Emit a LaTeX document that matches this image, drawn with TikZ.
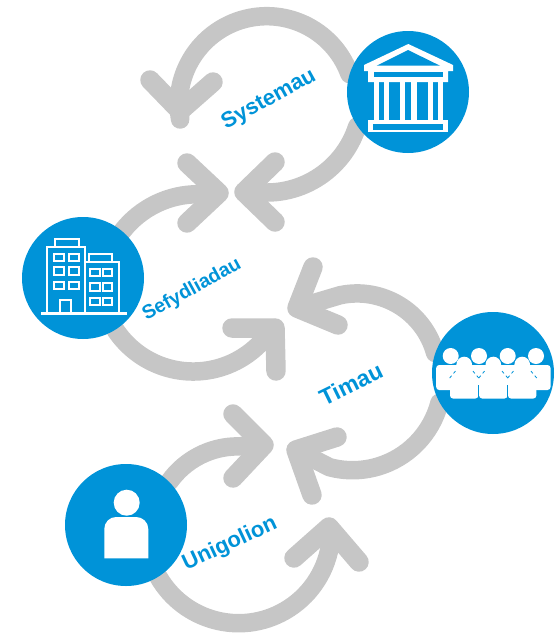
\documentclass[tikz,border=0pt]{standalone}
\usepackage{fontspec}
\setmainfont{Liberation Sans}
\usetikzlibrary{backgrounds}
\definecolor{ringgray}{HTML}{C6C6C6}
\definecolor{discblue}{HTML}{0093D8}

\begin{document}
\begin{tikzpicture}[
    x=1pt, y=-1pt,
    disc/.style={circle, fill=discblue, inner sep=0pt, minimum size=122pt},
    ring/.style={draw=ringgray, line width=18.5pt, line cap=round, line join=round},
    head/.style={ring, line width=19.5pt},
    tag/.style={text=discblue, font=\fontsize{22}{26}\selectfont\bfseries, inner sep=0pt},
    icon/.style={fill=white, draw=none},
    outline/.style={draw=white, line width=1.7pt},
    hole/.style={fill=discblue, draw=none},
    seam/.style={draw=discblue, line width=0.8pt}
  ]
    \useasboundingbox (0,0) rectangle (559,635);

    % Discs
    \node[disc] (sys) at (408, 92) {};
    \node[disc] (sef) at (83, 278) {};
    \node[disc] (tim) at (493, 373) {};
    \node[disc] (uni) at (126, 525) {};

    % Arrow heads: tip and the two arm ends
    \coordinate (tipA) at (180, 111); \coordinate (armA1) at (150, 80);  \coordinate (armA2) at (213, 82);
    \coordinate (tipB) at (244, 192); \coordinate (armB1) at (275, 162); \coordinate (armB2) at (275, 222);
    \coordinate (tipC) at (219, 193); \coordinate (armC1) at (187, 163); \coordinate (armC2) at (187, 223);
    \coordinate (tipD) at (275, 328); \coordinate (armD1) at (232, 328); \coordinate (armD2) at (276, 371);
    \coordinate (tipE) at (297, 308); \coordinate (armE1) at (313, 267); \coordinate (armE2) at (338, 325);
    \coordinate (tipF) at (296, 450); \coordinate (armF1) at (337, 437); \coordinate (armF2) at (312, 495);
    \coordinate (tipG) at (264, 445); \coordinate (armG1) at (233, 414); \coordinate (armG2) at (233, 478);
    \coordinate (tipH) at (329, 527); \coordinate (armH1) at (294, 558); \coordinate (armH2) at (359, 562);

    % Connections
    \begin{scope}[on background layer]
      \draw[ring] (sys.163) arc[start angle=20, end angle=190, radius=88pt] -- (tipA);
      \draw[ring] (sys.214.5) arc[start angle=-17.6, end angle=-100, radius=95pt] -- (tipB);
      \draw[ring] (sef.50.7) arc[start angle=142, end angle=90, radius=96pt] -- (tipC);
      \draw[ring] (sef.-58.2) arc[start angle=213.7, end angle=315, radius=93.5pt] -- (tipD);
      \draw[ring] (tim.161.5) arc[start angle=15.3, end angle=102, radius=81pt] -- (tipE);
      \draw[ring] (tim.209.5) arc[start angle=-14.3, end angle=-105, radius=89.7pt] -- (tipF);
      \draw[ring] (uni.45.7) arc[start angle=144.6, end angle=90, radius=84pt] -- (tipG);
      \draw[ring] (uni.-58.4) arc[start angle=210, end angle=350, radius=92.6pt] -- (tipH);
      \foreach \h in {A,B,C,D,E,F,G,H}
        \draw[head] (arm\h1) -- (tip\h) -- (arm\h2);
    \end{scope}

    % Labels
    \node[tag, rotate=29] (lsys) at (269, 100) {Systemau};
    \node[tag, rotate=29, font=\fontsize{19.5}{23}\selectfont\bfseries] (lsef) at (192, 290) {Sefydliadau};
    \node[tag, rotate=26, font=\fontsize{23}{27}\selectfont\bfseries] (ltim) at (351, 384) {Timau};
    \node[tag, rotate=25] (luni) at (230, 544) {Unigolion};

    % Icon: temple
    \fill[icon] (408.3,44) -- (453,65) -- (453,71) -- (448,71) -- (448,82) -- (368,82) -- (368,71) -- (364,71) -- (364,65) -- cycle;
    \fill[hole] (376.7,65.7) -- (408,50) -- (440,65.7) -- cycle;
    \fill[hole] (373.5,72) rectangle (443,77);
    \foreach \a/\b in {374/379, 384.3/389.3, 400/405, 411/416.7, 427.7/433.3, 438.3/443.3}
      \fill[icon] (\a,82) rectangle (\b,120);
    \fill[icon] (368,120) rectangle (448,132);
    \fill[hole] (373,124.3) rectangle (443,130);

    % Icon: buildings
    \draw[outline] (46.7,312) -- (46.7,247.3) -- (85,247.3) -- (85,312);
    \draw[outline] (85,262.3) -- (119.3,262.3) -- (119.3,312);
    \draw[outline] (55.3,246) -- (55.3,239.3) -- (79.3,239.3) -- (79.3,246);
    \draw[outline] (89.3,261) -- (89.3,254.3) -- (112,254.3) -- (112,261);
    \draw[outline, line width=3pt] (41,313) -- (126.7,313);
    \draw[outline] (60,312) -- (60,300) -- (71,300) -- (71,312);
    \foreach \ya/\yb in {254/260.7, 266.7/275, 281.7/289.3}
      \foreach \xa/\xb in {54.3/64.3, 68.7/78.7}
        \draw[outline] (\xa,\ya) rectangle (\xb,\yb);
    \foreach \ya/\yb in {269.3/275.7, 283.3/290.7, 298.3/305}
      \foreach \xa/\xb in {90.3/100, 102.7/112}
        \draw[outline] (\xa,\ya) rectangle (\xb,\yb);

    % Icon: group of people
    \foreach \x in {450.7, 479, 507.7, 536} {
      \fill[icon] (\x,356) circle[radius=8pt];
      \fill[icon, rounded corners=3pt] (\x-14.5,365) rectangle (\x+14.5,390);
    }
    \foreach \x in {464.2, 493.3, 522.2} {
      \fill[icon] (\x,364.5) circle[radius=7.8pt];
      \fill[icon, rounded corners=3pt] (\x-14.2,373.5) rectangle (\x+14.2,398.5);
      \draw[seam, dashed] (\x-14.5,378) -- (\x-7,369);
      \draw[seam, dashed] (\x+14.5,378) -- (\x+7,369);
    }
    \draw[seam] (478.7,385) -- (478.7,398.5);
    \draw[seam] (507.7,385) -- (507.7,398.5);

    % Icon: person
    \fill[icon] (126.7,502.7) circle[radius=13pt];
    \fill[icon] (104.3,558.3) -- (104.3,529) to[out=90, in=180] (116,517) -- (136,517) to[out=0, in=90] (148.3,529) -- (148.3,558.3) -- cycle;
  \end{tikzpicture}
\end{document}
